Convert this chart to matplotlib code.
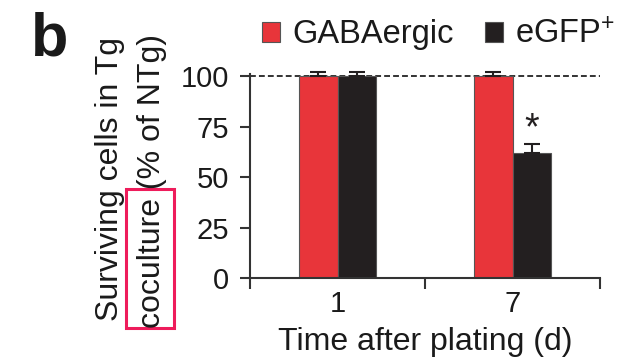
import matplotlib
matplotlib.use("Agg")
import matplotlib.pyplot as plt
from matplotlib.patches import Patch, Rectangle
import numpy as np

plt.rcParams['font.family'] = ['Liberation Sans', 'DejaVu Sans']
plt.rcParams['mathtext.fontset'] = 'custom'
plt.rcParams['mathtext.rm'] = 'Liberation Sans'
plt.rcParams['mathtext.default'] = 'regular'

# Data
days = ["1", "7"]
gaba_vals = [100, 100]
gaba_err = [1.8, 1.8]
egfp_vals = [100, 62]
egfp_err = [1.8, 4.5]
series_names = ["GABAergic", r"eGFP$^{+}$"]
yticks = [0, 25, 50, 75, 100]

RED = "#E8353A"
BLACK = "#231F20"
AXC = "#333333"
TXT = "#1a1a1a"

W, H = 636, 361
fig = plt.figure(figsize=(W / 100, H / 100), dpi=100)
ax = fig.add_axes([250 / W, 1 - 278 / H, 350 / W, 204 / H])

centers = np.array([0.5, 1.5])
bw = 0.222

ax.axhline(100, color=AXC, lw=1.4, linestyle=(0, (3, 1.6)), zorder=1)

ax.bar(centers - bw / 2, gaba_vals, bw, color=RED, edgecolor="#555555", lw=0.8, zorder=2)
ax.bar(centers + bw / 2, egfp_vals, bw, color=BLACK, edgecolor="#555555", lw=0.8, zorder=2)

# error bars (upper only)
ax.errorbar(centers - bw / 2, gaba_vals, yerr=[np.zeros(2), gaba_err], fmt='none',
            ecolor=BLACK, elinewidth=1.5, capsize=6, capthick=1.5, zorder=3, clip_on=False)
ax.errorbar(centers + bw / 2, egfp_vals, yerr=[np.zeros(2), egfp_err], fmt='none',
            ecolor=BLACK, elinewidth=1.5, capsize=6, capthick=1.5, zorder=3, clip_on=False)

# significance marker
ax.text(centers[1] + bw / 2, egfp_vals[1] + egfp_err[1] + 7, "*", ha="center", va="center",
        fontsize=27, color=BLACK)

ax.set_xlim(0, 2)
ax.set_ylim(0, 101)
for s in ["top", "right"]:
    ax.spines[s].set_visible(False)
for s in ["left", "bottom"]:
    ax.spines[s].set_color(AXC)
    ax.spines[s].set_linewidth(1.5)

ax.set_yticks(yticks)
ax.set_yticklabels([str(v) for v in yticks])
ax.tick_params(axis="y", length=7, width=1.5, color=AXC, pad=8, labelsize=21, labelcolor=TXT)

ax.set_xticks([0, 1, 2])
ax.set_xticklabels([])
ax.tick_params(axis="x", which="major", length=8, width=1.5, color=AXC)
ax.set_xticks(centers, minor=True)
ax.set_xticklabels(days, minor=True)
ax.tick_params(axis="x", which="minor", length=0, pad=9, labelsize=21, labelcolor=TXT)

ax.set_xlabel("Time after plating (d)", fontsize=23, color=TXT, labelpad=6)

# two-line y label
fig.text(110 / W, 1 - 179 / H, "Surviving cells in Tg", rotation=90, ha="center", va="center",
         fontsize=23, color=TXT)
fig.text(152 / W, 1 - 181 / H, "coculture (% of NTg)", rotation=90, ha="center", va="center",
         fontsize=23, color=TXT)

# highlight box around "coculture"
fig.patches.append(Rectangle((126 / W, 1 - 328 / H), 48 / W, 139 / H, transform=fig.transFigure,
                             fill=False, edgecolor="#EE1C5B", lw=2.2))

# panel letter
fig.text(31 / W, 1 - 56 / H, "b", fontsize=44, fontweight="bold", color=TXT,
         ha="left", va="baseline")

handles = [Patch(facecolor=RED, edgecolor="#555555", lw=0.8),
           Patch(facecolor=BLACK, edgecolor="#555555", lw=0.8)]
fig.legend(handles, series_names, loc="upper left", bbox_to_anchor=(262 / W, 1 - 19 / H),
           ncol=2, frameon=False, fontsize=23.5, handlelength=0.55, handleheight=0.55,
           handletextpad=0.38, columnspacing=0.95, borderpad=0, borderaxespad=0,
           labelcolor=TXT)

fig.savefig("out.png", dpi=100)
